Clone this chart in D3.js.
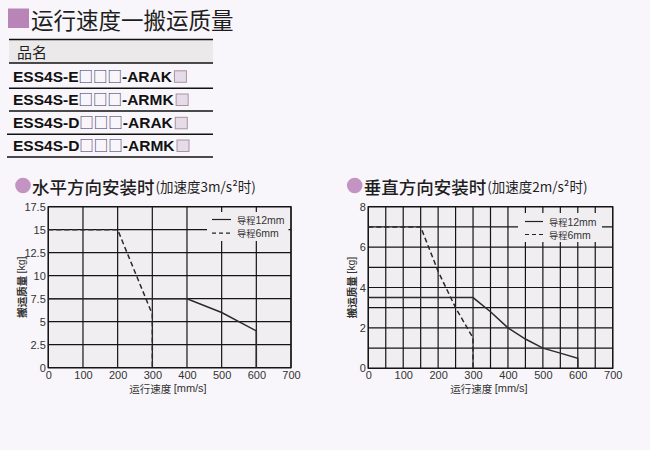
<!DOCTYPE html>
<html>
<head>
<meta charset="utf-8">
<script src="https://cdn.jsdelivr.net/npm/d3@7"></script>
<style>
  html, body { margin: 0; padding: 0; background: #f8f6fa; }
  svg { display: block; }
</style>
</head>
<body>
<svg id="chart" width="650" height="450"></svg>
<script>
// ---- Data ----
const pageTitle = "运行速度一搬运质量";
const tableHeader = "品名";
const modelPrefixes = ["ESS4S-E", "ESS4S-E", "ESS4S-D", "ESS4S-D"];
const modelSuffixes = ["-ARAK", "-ARMK", "-ARAK", "-ARMK"];
const blankMarks = "□□□";

const speedTicks = [0, 100, 200, 300, 400, 500, 600, 700];
const speedGridRight = [0, 50, 100, 150, 200, 250, 300, 350, 400, 450, 500, 550, 600, 650, 700];
const massTicksH = [0, 2.5, 5, 7.5, 10, 12.5, 15, 17.5];
const massTicksV = [0, 2, 4, 6, 8];
const massGridV = [0, 1, 2, 3, 4, 5, 6, 7, 8];

const seriesNames = ["导程12mm", "导程6mm"];

// Horizontal mounting (3 m/s²)
const hLead12Speed = [0, 400, 500, 600, 600];
const hLead12Mass  = [7.5, 7.5, 6, 4, 0];
const hLead6Speed  = [0, 200, 300, 300];
const hLead6Mass   = [15, 15, 5.8, 0];

// Vertical mounting (2 m/s²)
const vLead12Speed = [0, 300, 350, 400, 450, 500, 550, 600, 600];
const vLead12Mass  = [3.5, 3.5, 2.8, 2, 1.45, 1, 0.75, 0.5, 0];
const vLead6Speed  = [0, 150, 200, 250, 300, 300];
const vLead6Mass   = [7, 7, 4.8, 3, 1.5, 0];

const CJK = "'Noto Sans CJK SC', 'Noto Sans CJK JP', sans-serif";
const LAT = "'Liberation Sans Narrow', 'Liberation Sans', Arial, sans-serif";
const INK = "#1e1e1e";
const ACCENT = "#b985b8";

const svg = d3.select("#chart");

// ---- Page title ----
svg.append("rect").attr("x", 8).attr("y", 8.5).attr("width", 21).attr("height", 19.5)
  .attr("fill", ACCENT);
svg.append("text").attr("x", 31).attr("y", 18.5).attr("dominant-baseline", "central")
  .attr("font-family", CJK).attr("font-size", 22.5).attr("fill", INK).text(pageTitle);

// ---- Model table ----
svg.append("rect").attr("x", 9).attr("y", 39.5).attr("width", 204).attr("height", 23.5)
  .attr("fill", "#ebe9ea");
svg.append("text").attr("x", 17).attr("y", 51.5).attr("dominant-baseline", "central")
  .attr("font-family", CJK).attr("font-size", 15).attr("fill", INK).text(tableHeader);

const tableLines = [
  { y: 39.5, x0: 9 }, { y: 63, x0: 9 }, { y: 88.3, x0: 9 },
  { y: 111, x0: 9 }, { y: 134.3, x0: 7 }, { y: 157, x0: 7 }
];
svg.selectAll(".tline").data(tableLines).join("line")
  .attr("x1", d => d.x0).attr("x2", 213).attr("y1", d => d.y).attr("y2", d => d.y)
  .attr("stroke", "#111").attr("stroke-width", 1.4);

const rowBaselines = [81.8, 105, 128.3, 151];
modelPrefixes.forEach((pre, i) => {
  const t = svg.append("text").attr("x", 13).attr("y", rowBaselines[i])
    .attr("font-family", "'Liberation Sans', Arial, sans-serif").attr("font-weight", "bold")
    .attr("font-size", 15.5).attr("fill", "#111");
  t.append("tspan").text(pre);
  t.append("tspan").attr("font-family", CJK).attr("font-weight", "normal").attr("font-size", 14.5)
    .attr("fill", "#3d3360").text(blankMarks);
  t.append("tspan").text(modelSuffixes[i]);
  const w = t.node().getComputedTextLength();
  svg.append("rect").attr("x", 13 + w + 2.5).attr("y", rowBaselines[i] - 11)
    .attr("width", 12).attr("height", 11.5)
    .attr("fill", "#e6dbe8").attr("stroke", "#a8949f").attr("stroke-width", 1);
});

// ---- Chart builder ----
function drawPanel(opt) {
  const g = svg.append("g");
  const x = d3.scaleLinear().domain([0, 700]).range([opt.left, opt.right]);
  const y = d3.scaleLinear().domain([0, opt.yMax]).range([opt.bottom, opt.top]);

  // subtitle
  g.append("circle").attr("cx", opt.circleX).attr("cy", 185.5).attr("r", 7.8).attr("fill", "#c393c3");
  const st = g.append("text").attr("x", opt.circleX + 9).attr("y", 185.5)
    .attr("dominant-baseline", "central").attr("font-family", CJK).attr("fill", INK);
  st.append("tspan").attr("font-size", 17.5).attr("font-weight", 500).text(opt.title);
  st.append("tspan").attr("font-size", 13.5).attr("dx", 1).text(opt.note);

  // plot background
  g.append("rect").attr("x", opt.left).attr("y", opt.top)
    .attr("width", opt.right - opt.left).attr("height", opt.bottom - opt.top)
    .attr("fill", "#f1eef2");

  // grid
  g.selectAll(".vg").data(opt.xGrid).join("line")
    .attr("x1", d => x(d)).attr("x2", d => x(d)).attr("y1", opt.top).attr("y2", opt.bottom)
    .attr("stroke", "#151515").attr("stroke-width", 1.2);
  g.selectAll(".hg").data(opt.yGrid).join("line")
    .attr("x1", opt.left).attr("x2", opt.right).attr("y1", d => y(d)).attr("y2", d => y(d))
    .attr("stroke", "#151515").attr("stroke-width", 1.2);

  // legend backdrop
  g.append("rect").attr("x", opt.legend.x0).attr("y", opt.legend.y0)
    .attr("width", opt.legend.x1 - opt.legend.x0).attr("height", opt.legend.y1 - opt.legend.y0)
    .attr("fill", "#f1eef2");

  // frame
  g.append("rect").attr("x", opt.left).attr("y", opt.top)
    .attr("width", opt.right - opt.left).attr("height", opt.bottom - opt.top)
    .attr("fill", "none").attr("stroke", "#151515").attr("stroke-width", 1.3);

  // series
  const line = d3.line().x(d => x(d[0])).y(d => y(d[1]));
  const solid = d3.zip(opt.s12x, opt.s12y);
  const dashed = d3.zip(opt.s6x, opt.s6y);
  g.append("path").datum(solid).attr("d", line).attr("fill", "none")
    .attr("stroke", "#2a2a2a").attr("stroke-width", 1.5);
  g.append("path").datum(dashed).attr("d", line).attr("fill", "none")
    .attr("stroke", "#2a2a2a").attr("stroke-width", 1.5).attr("stroke-dasharray", "5,3");

  // legend
  const L = opt.legend;
  [0, 1].forEach(i => {
    const ly = L.ly[i];
    g.append("line").attr("x1", L.lx0).attr("x2", L.lx1).attr("y1", ly).attr("y2", ly)
      .attr("stroke", "#222").attr("stroke-width", 1.2)
      .attr("stroke-dasharray", i === 1 ? "4,3" : null);
    const tx = g.append("text").attr("x", L.tx).attr("y", ly).attr("dominant-baseline", "central")
      .attr("font-size", 9.2).attr("fill", "#333");
    tx.append("tspan").attr("font-family", CJK).text(seriesNames[i].slice(0, 2));
    tx.append("tspan").attr("font-family", LAT).attr("font-size", 10.5).text(seriesNames[i].slice(2));
  });

  // axes (labels only)
  const xa = g.append("g").attr("transform", `translate(0,${opt.bottom + 7})`)
    .call(d3.axisBottom(x).tickValues(speedTicks).tickSize(0).tickPadding(0).tickFormat(d3.format("d")));
  xa.select(".domain").remove();
  xa.selectAll("text").attr("font-family", LAT).attr("font-size", 11).attr("fill", "#333")
    .attr("dy", "0.35em");

  const ya = g.append("g").attr("transform", `translate(${opt.left - 2.5},0)`)
    .call(d3.axisLeft(y).tickValues(opt.yTicks).tickSize(0).tickPadding(0).tickFormat(d => String(d)));
  ya.select(".domain").remove();
  ya.selectAll("text").attr("font-family", LAT).attr("font-size", 11).attr("fill", "#333");

  // axis titles
  const xt = g.append("text").attr("x", opt.xTitleX).attr("y", 388).attr("text-anchor", "middle")
    .attr("dominant-baseline", "central").attr("font-size", 10.5).attr("fill", "#333");
  xt.append("tspan").attr("font-family", CJK).text("运行速度 ");
  xt.append("tspan").attr("font-family", LAT).attr("font-size", 11).text("[mm/s]");

  const yt = g.append("text").attr("transform", `translate(${opt.yTitleX},${(opt.top + opt.bottom) / 2}) rotate(-90)`)
    .attr("text-anchor", "middle").attr("dominant-baseline", "central")
    .attr("font-size", 10.5).attr("font-weight", "bold").attr("fill", "#333");
  yt.append("tspan").attr("font-family", CJK).text("搬运质量 ");
  yt.append("tspan").attr("font-family", LAT).attr("font-weight", "normal").text("[kg]");
}

drawPanel({
  left: 48.3, right: 291, top: 206.7, bottom: 367.7, yMax: 17.5,
  circleX: 23, title: "水平方向安装时", note: "(加速度3m/s²时)",
  xGrid: speedTicks, yGrid: massTicksH, yTicks: massTicksH,
  s12x: hLead12Speed, s12y: hLead12Mass, s6x: hLead6Speed, s6y: hLead6Mass,
  legend: { x0: 207, x1: 288.5, y0: 212, y1: 241, lx0: 212, lx1: 231, tx: 237, ly: [219.5, 233.2] },
  xTitleX: 168, yTitleX: 21
});

drawPanel({
  left: 368.3, right: 612.7, top: 206.7, bottom: 368.3, yMax: 8,
  circleX: 354.7, title: "垂直方向安装时", note: "(加速度2m/s²时)",
  xGrid: speedGridRight, yGrid: massGridV, yTicks: massTicksV,
  s12x: vLead12Speed, s12y: vLead12Mass, s6x: vLead6Speed, s6y: vLead6Mass,
  legend: { x0: 518, x1: 602, y0: 213, y1: 242, lx0: 525, lx1: 543, tx: 549, ly: [221.5, 234.5] },
  xTitleX: 489, yTitleX: 351
});
</script>
</body>
</html>
